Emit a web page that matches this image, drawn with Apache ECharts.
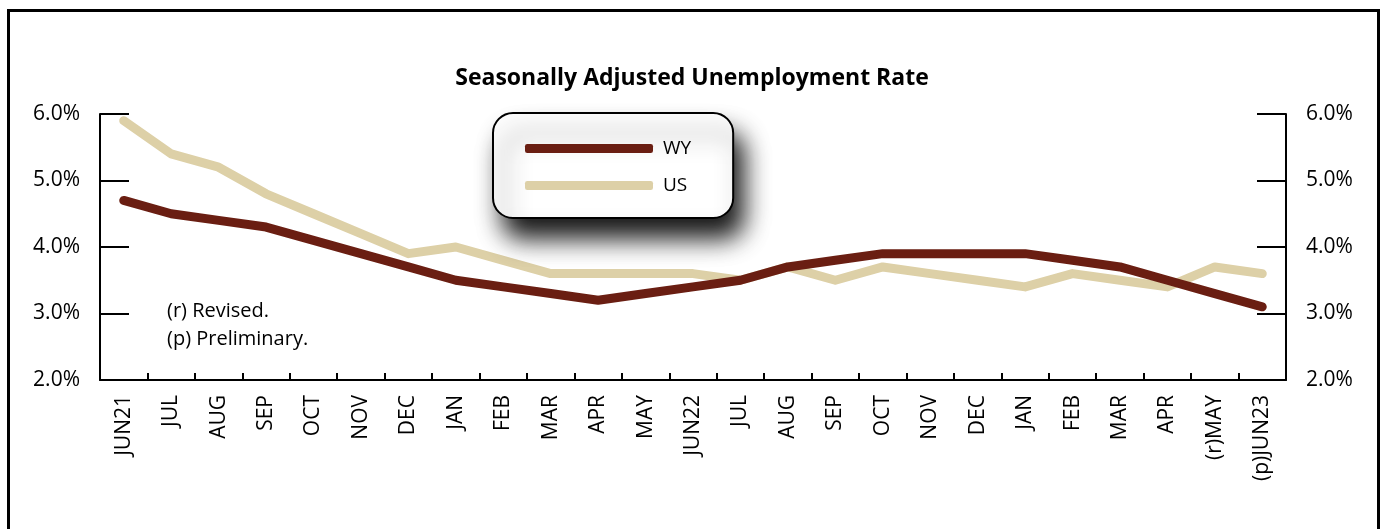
<!DOCTYPE html>
<html>
<head>
<meta charset="utf-8">
<script src="https://cdn.jsdelivr.net/npm/echarts@6/dist/echarts.min.js"></script>
<style>
html,body{margin:0;padding:0;background:#fff;}
#chart{width:1384px;height:529px;}
</style>
</head>
<body>
<div id="chart"></div>
<script>
const categories = ['JUN21','JUL','AUG','SEP','OCT','NOV','DEC','JAN','FEB','MAR','APR','MAY','JUN22','JUL','AUG','SEP','OCT','NOV','DEC','JAN','FEB','MAR','APR','(r)MAY','(p)JUN23'];
const wyValues = [4.7,4.5,4.4,4.3,4.1,3.9,3.7,3.5,3.4,3.3,3.2,3.3,3.4,3.5,3.7,3.8,3.9,3.9,3.9,3.9,3.8,3.7,3.5,3.3,3.1];
const usValues = [5.9,5.4,5.2,4.8,4.5,4.2,3.9,4.0,3.8,3.6,3.6,3.6,3.6,3.5,3.7,3.5,3.7,3.6,3.5,3.4,3.6,3.5,3.4,3.7,3.6];
const yTicks = {min: 2, max: 6, interval: 1};
const titleText = 'Seasonally Adjusted Unemployment Rate';
const notes = ['(r) Revised.', '(p) Preliminary.'];

const FONT = '"Open Sans", "Noto Sans", sans-serif';
const chart = echarts.init(document.getElementById('chart'), null, {renderer: 'canvas'});

function yAxisCfg(pos) {
  return {
    type: 'value',
    position: pos,
    min: yTicks.min, max: yTicks.max, interval: yTicks.interval,
    axisLine: {show: true, lineStyle: {color: '#000', width: 2}},
    axisTick: {show: true, inside: true, length: 29, lineStyle: {color: '#000', width: 2}},
    splitLine: {show: false},
    axisLabel: {
      margin: 20,
      color: '#000',
      fontFamily: FONT,
      fontSize: 21,
      padding: [4, 0, 0, 0],
      formatter: v => v.toFixed(1) + '%'
    }
  };
}

chart.setOption({
  animation: false,
  backgroundColor: '#fff',
  title: {
    text: titleText,
    left: 687, top: 62, textAlign: 'center',
    textStyle: {fontFamily: FONT, fontSize: 23, fontWeight: 'bold', color: '#000'}
  },
  grid: {left: 100, right: 98, top: 114, bottom: 149, containLabel: false},
  legend: {
    orient: 'vertical',
    left: 493, top: 113,
    padding: [26, 42, 23, 32],
    itemGap: 18,
    itemWidth: 128, itemHeight: 9,
    icon: 'roundRect',
    backgroundColor: '#fff',
    borderColor: '#000', borderWidth: 2, borderRadius: 20,
    shadowColor: 'rgba(0,0,0,0.9)', shadowBlur: 24, shadowOffsetX: 10, shadowOffsetY: 20,
    textStyle: {fontFamily: FONT, fontSize: 19, color: '#000', padding: [0, 0, 0, 5]},
    data: ['WY', 'US']
  },
  xAxis: {
    type: 'category',
    data: categories,
    boundaryGap: true,
    axisLine: {show: true, lineStyle: {color: '#000', width: 2}},
    axisTick: {show: true, inside: true, length: 7, interval: 0, lineStyle: {color: '#000', width: 2}},
    axisLabel: {interval: 0, rotate: 90, margin: 15, color: '#000', fontFamily: FONT, fontSize: 21}
  },
  yAxis: [yAxisCfg('left'), yAxisCfg('right')],
  series: [
    {
      name: 'US', type: 'line', data: usValues, yAxisIndex: 0,
      symbol: 'none', color: '#DDD0A7',
      lineStyle: {width: 9, color: '#DDD0A7', cap: 'round', join: 'round'}
    },
    {
      name: 'WY', type: 'line', data: wyValues, yAxisIndex: 0,
      symbol: 'none', color: '#6A1E12',
      lineStyle: {width: 9, color: '#6A1E12', cap: 'round', join: 'round'}
    }
  ],
  graphic: [
    {type: 'rect', shape: {x: 8.5, y: 10.5, width: 1370, height: 600}, style: {fill: 'none', stroke: '#000', lineWidth: 3}, silent: true},
    {type: 'text', left: 167, top: 301, style: {text: notes[0], font: '20px ' + FONT, fill: '#000'}},
    {type: 'text', left: 167, top: 329, style: {text: notes[1], font: '20px ' + FONT, fill: '#000'}}
  ]
});
</script>
</body>
</html>
